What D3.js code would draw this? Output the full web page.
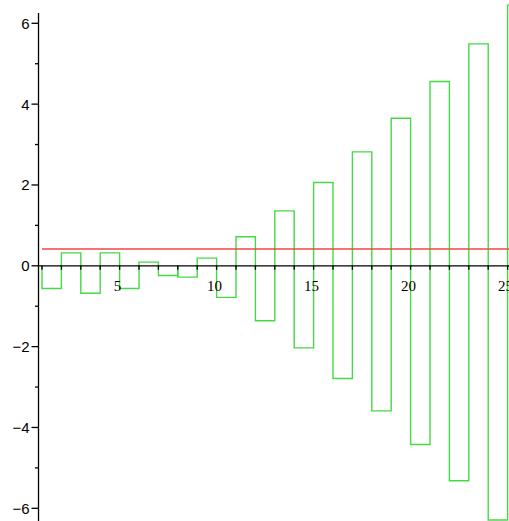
<!DOCTYPE html>
<html>
<head>
<meta charset="utf-8">
<script src="https://cdn.jsdelivr.net/npm/d3@7"></script>
<style>
  body { margin: 0; background: #fff; }
  svg { display: block; }
</style>
</head>
<body>
<svg width="509" height="521"></svg>
<script>
// step values, one per unit interval [i, i+1]
var starts = [1, 2, 3, 4, 5, 6, 7, 8, 9, 10, 11, 12, 13, 14, 15, 16, 17, 18, 19, 20, 21, 22, 23, 24, 25];
var values = [-0.56, 0.32, -0.68, 0.32, -0.56, 0.09, -0.24, -0.28, 0.19, -0.78, 0.72, -1.36, 1.36,
              -2.03, 2.06, -2.79, 2.82, -3.59, 3.65, -4.42, 4.56, -5.32, 5.49, -6.29, 6.45];
var meanLevel = 0.415;
var xLabels = [5, 10, 15, 20, 25];
var yLabels = [-6, -4, -2, 0, 2, 4, 6];

var svg = d3.select("svg"),
    width = +svg.attr("width"),
    height = +svg.attr("height");

var x = d3.scaleLinear().domain([1, 25]).range([42, 507.6]);
var y = d3.scaleLinear().domain([-6, 6]).range([508.3, 23.3]);

var axisX = x(0.82), axisY = y(0);

svg.append("defs").append("clipPath")
    .attr("id", "clip")
    .append("rect")
    .attr("width", width)
    .attr("height", height);

var plot = svg.append("g").attr("clip-path", "url(#clip)");

// green bar outlines
plot.selectAll("path.bar")
    .data(starts)
    .enter().append("path")
    .attr("class", "bar")
    .attr("fill", "none")
    .attr("stroke", "#45d945")
    .attr("stroke-width", 1.4)
    .attr("d", function(d, i) {
        var x0 = x(d), x1 = x(d + 1), y0 = y(0), y1 = y(values[i]);
        return "M" + x0 + "," + y0 + "V" + y1 + "H" + x1 + "V" + y0;
    });

// red horizontal level
plot.append("line")
    .attr("x1", x(1)).attr("x2", x(26.5))
    .attr("y1", y(meanLevel)).attr("y2", y(meanLevel))
    .attr("stroke", "#f04444")
    .attr("stroke-width", 1.4);

// axes
var axes = svg.append("g").attr("stroke", "#000").attr("stroke-width", 1.3);
axes.append("line")
    .attr("x1", axisX).attr("x2", width)
    .attr("y1", axisY).attr("y2", axisY);
axes.append("line")
    .attr("x1", axisX).attr("x2", axisX)
    .attr("y1", 13).attr("y2", height);

// x ticks every unit
axes.selectAll("line.xt")
    .data(d3.range(1, 26))
    .enter().append("line")
    .attr("class", "xt")
    .attr("x1", function(d) { return x(d); })
    .attr("x2", function(d) { return x(d); })
    .attr("y1", axisY).attr("y2", axisY + 4);

// y ticks every unit, longer on labeled ones
axes.selectAll("line.yt")
    .data(d3.range(-6, 7))
    .enter().append("line")
    .attr("class", "yt")
    .attr("x1", function(d) { return axisX - (d % 2 === 0 ? 7 : 3.5); })
    .attr("x2", axisX)
    .attr("y1", function(d) { return y(d); })
    .attr("y2", function(d) { return y(d); });

svg.selectAll("text.xl")
    .data(xLabels)
    .enter().append("text")
    .attr("class", "xl")
    .attr("x", function(d) { return x(d) - 2; })
    .attr("y", axisY + 25)
    .attr("text-anchor", "middle")
    .attr("font-family", "Liberation Serif, serif")
    .attr("font-size", 15)
    .text(function(d) { return d; });

svg.selectAll("text.yl")
    .data(yLabels)
    .enter().append("text")
    .attr("class", "yl")
    .attr("x", axisX - 9)
    .attr("y", function(d) { return y(d); })
    .attr("dy", "0.36em")
    .attr("text-anchor", "end")
    .attr("font-family", "Liberation Sans, sans-serif")
    .attr("font-size", 15)
    .text(function(d) { return d < 0 ? "\u2212" + Math.abs(d) : d; });
</script>
</body>
</html>
